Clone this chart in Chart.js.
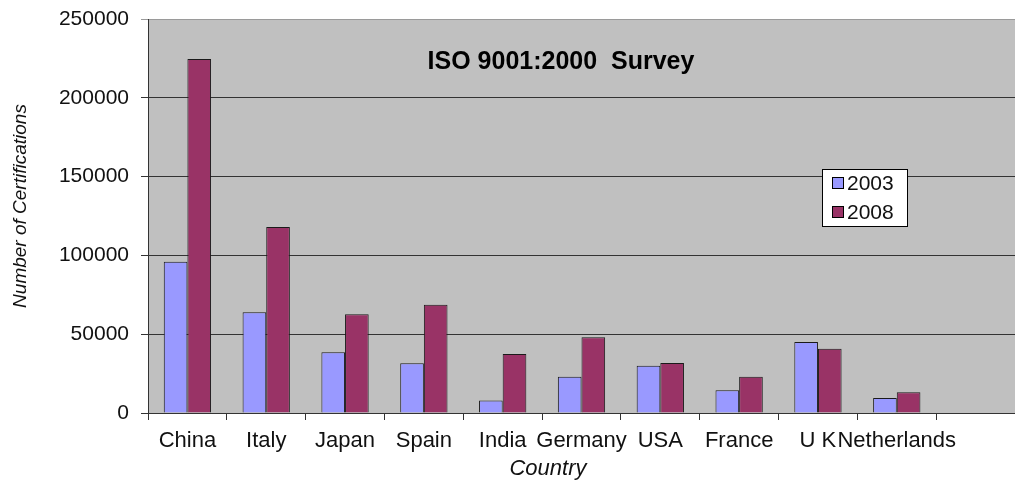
<!DOCTYPE html>
<html>
<head>
<meta charset="utf-8">
<script src="https://cdn.jsdelivr.net/npm/chart.js@4.4.1/dist/chart.umd.min.js"></script>
<style>
  html, body { margin: 0; padding: 0; background: #fff; overflow: hidden; }
  #wrap { width: 1015px; height: 483px; position: relative; }
</style>
</head>
<body>
<div id="wrap"><canvas id="isoChart"></canvas></div>
<script>
const countries = ["China", "Italy", "Japan", "Spain", "India", "Germany", "USA", "France", "U K", "Netherlands"];
const certs2003 = [96000, 64000, 38500, 31500, 8000, 23000, 30000, 14500, 45000, 9500];
const certs2008 = [224600, 118000, 62700, 68700, 37500, 48000, 31800, 23000, 40800, 13200];
const yTicks = [0, 50000, 100000, 150000, 200000, 250000];

const chartTitle = "ISO 9001:2000  Survey";
const xTitle = "Country";
const yTitle = "Number of Certifications";
const fontFamily = "'Liberation Sans', Arial, sans-serif";

// Excel keeps an empty slot after the last country
const labels = [...countries, ""];

const plotBackground = {
  id: "plotBackground",
  beforeDraw(chart) {
    const { ctx, chartArea } = chart;
    ctx.save();
    ctx.fillStyle = "#c0c0c0";
    ctx.fillRect(chartArea.left, chartArea.top, chartArea.right - chartArea.left, chartArea.bottom - chartArea.top);
    ctx.restore();
  }
};

const textAndLegend = {
  id: "textAndLegend",
  afterDraw(chart) {
    const { ctx, chartArea } = chart;
    ctx.save();
    ctx.fillStyle = "#000";
    ctx.font = `bold 25px ${fontFamily}`;
    ctx.textAlign = "center";
    ctx.textBaseline = "middle";
    ctx.fillText(chartTitle, 561, chartArea.top + 43);

    // axis titles, placed where the original put them
    ctx.fillStyle = "#111";
    ctx.font = `italic 22px ${fontFamily}`;
    ctx.fillText(xTitle, 548, 469);

    ctx.save();
    ctx.translate(21, 206);
    ctx.rotate(-Math.PI / 2);
    ctx.font = `italic 19px ${fontFamily}`;
    ctx.fillText(yTitle, 0, 0);
    ctx.restore();

    // legend box
    const boxX = 822, boxY = 169, boxW = 85, boxH = 57;
    ctx.fillStyle = "#fff";
    ctx.fillRect(boxX, boxY, boxW, boxH);
    ctx.strokeStyle = "#000";
    ctx.lineWidth = 1;
    ctx.strokeRect(boxX + 0.5, boxY + 0.5, boxW, boxH);

    ctx.font = `21px ${fontFamily}`;
    ctx.textAlign = "left";
    chart.data.datasets.forEach((ds, i) => {
      const cy = boxY + 14 + i * 29;
      ctx.fillStyle = ds.backgroundColor;
      ctx.fillRect(boxX + 10, cy - 6, 12, 12);
      ctx.strokeStyle = "#000";
      ctx.strokeRect(boxX + 10.5, cy - 5.5, 11, 11);
      ctx.fillStyle = "#111";
      ctx.fillText(ds.label, boxX + 25, cy + 1);
    });
    ctx.restore();
  }
};

new Chart(document.getElementById("isoChart"), {
  type: "bar",
  data: {
    labels,
    datasets: [
      {
        label: "2003",
        data: certs2003,
        backgroundColor: "#9999ff",
        borderColor: "#1a1a1a",
        borderWidth: 1,
        categoryPercentage: 0.6,
        barPercentage: 1
      },
      {
        label: "2008",
        data: certs2008,
        backgroundColor: "#993366",
        borderColor: "#1a1a1a",
        borderWidth: 1,
        categoryPercentage: 0.6,
        barPercentage: 1
      }
    ]
  },
  options: {
    responsive: true,
    maintainAspectRatio: false,
    animation: false,
    layout: { padding: { top: 19, right: 0, left: 0, bottom: 0 } },
    plugins: {
      legend: { display: false },
      title: { display: false },
      tooltip: { enabled: false }
    },
    scales: {
      x: {
        offset: true,
        grid: {
          offset: true,
          drawOnChartArea: false,
          drawTicks: true,
          tickLength: 7,
          color: "#333"
        },
        border: { color: "#333", width: 1 },
        ticks: {
          autoSkip: false,
          maxRotation: 0,
          minRotation: 0,
          padding: 8,
          color: "#111",
          font: { family: fontFamily, size: 22 }
        },
        afterFit(scale) {
          scale.height = 70;
          scale.paddingLeft = 0;
          scale.paddingRight = 0;
        }
      },
      y: {
        min: 0,
        max: 250000,
        afterBuildTicks(scale) {
          scale.ticks = yTicks.map((v) => ({ value: v }));
        },
        grid: {
          color: (c) => (c.tick && c.tick.value === 250000 ? "#9a9a9a" : "#333"),
          tickLength: 7,
          drawTicks: true
        },
        border: { color: "#333", width: 1 },
        ticks: {
          padding: 12,
          color: "#111",
          font: { family: fontFamily, size: 21 },
          callback: (value) => String(value)
        },
        afterFit(scale) {
          scale.width = 148;
          scale.paddingTop = 0;
          scale.paddingBottom = 0;
        }
      }
    }
  },
  plugins: [plotBackground, textAndLegend]
});
</script>
</body>
</html>
